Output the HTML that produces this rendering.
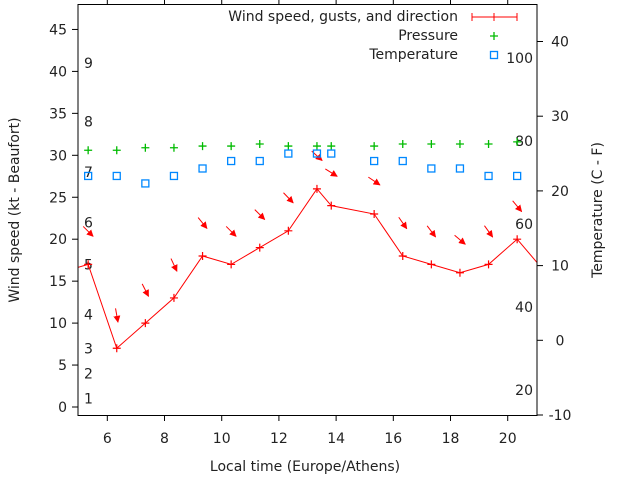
<!DOCTYPE html>
<html><head><meta charset="utf-8"><style>
body{margin:0;background:#fff}
svg text{font-family:"DejaVu Sans","Liberation Sans",sans-serif;font-size:14px;fill:#222}
</style></head><body>
<svg id="chart" width="640" height="480" viewBox="0 0 640 480" xmlns="http://www.w3.org/2000/svg">
<defs><clipPath id="clip"><rect x="78" y="4.5" width="459" height="411"/></clipPath>
<marker id="ah" viewBox="0 0 10 10" refX="9" refY="5" markerWidth="7" markerHeight="7" orient="auto"><path d="M0,0L10,5L0,10z" fill="#f00"/></marker></defs>
<g id="axes"></g>
<g id="marks" clip-path="url(#clip)"></g>
<rect x="78" y="4.5" width="459" height="411" fill="none" stroke="#000" stroke-width="1"/>
<text x="305" y="471" text-anchor="middle">Local time (Europe/Athens)</text>
<text transform="translate(19,210) rotate(-90)" text-anchor="middle">Wind speed (kt - Beaufort)</text>
<text transform="translate(602,210) rotate(-90)" text-anchor="middle">Temperature (C - F)</text>
<g>
<text x="458" y="21" text-anchor="end">Wind speed, gusts, and direction</text>
<line x1="472" y1="17" x2="517" y2="17" stroke="#f00"/><line x1="472" y1="13" x2="472" y2="21" stroke="#f00"/><line x1="517" y1="13" x2="517" y2="21" stroke="#f00"/><line x1="494" y1="13" x2="494" y2="21" stroke="#f00"/>
<text x="458" y="40" text-anchor="end">Pressure</text>
<path d="M490,36h8M494,32v8" stroke="#0b0" stroke-width="1.3"/>
<text x="458" y="59" text-anchor="end">Temperature</text>
<rect x="490.5" y="51.5" width="7" height="7" fill="none" stroke="#08f" stroke-width="1.3"/>
</g>
</svg>
<script>
const times=[4.33,5.33,6.33,7.33,8.33,9.33,10.33,11.33,12.33,13.33,13.83,15.33,16.33,17.33,18.33,19.33,20.33,21.33];
const speeds=[16,17,7,10,13,18,17,19,21,26,24,23,18,17,16,17,20,16];
const dirs=[315,315,350,333,335,321,315,315,316,312,302,304,325,323,310,324,320,320];
const pressure=[30.6,30.6,30.6,30.9,30.9,31.1,31.1,31.35,31.1,31.1,31.1,31.1,31.35,31.35,31.35,31.35,31.6,31.6];
const temps=[22,22,22,21,22,23,24,24,25,25,25,24,24,23,23,22,22,22];
const yTicks=[0,5,10,15,20,25,30,35,40,45];
const y2Ticks=[-10,0,10,20,30,40];
const xTicks=[6,8,10,12,14,16,18,20];
const beaufort=[1,4,7,11,17,22,28,34,41];
const fTicks=[20,40,60,80,100];
const X=t=>78+(t-4.975)*28.6;
const Y=v=>407-v*8.39;
const Y2=c=>415-(c+10)*7.47;
const NS='http://www.w3.org/2000/svg';
function mk(tag,attrs,parent,txt){const e=document.createElementNS(NS,tag);for(const k in attrs)e.setAttribute(k,attrs[k]);if(txt!==undefined)e.textContent=txt;parent.appendChild(e);return e;}
const ax=document.getElementById('axes'),mg=document.getElementById('marks');
yTicks.forEach(v=>{const y=Y(v);
 const l=mk('line',{x1:72,y1:y,x2:78,y2:y,stroke:'#000'},ax);
 
 
 const t=mk('text',{x:67,y:y+5,'text-anchor':'end'},ax,String(v));
 
 });
y2Ticks.forEach(v=>{const y=Y2(v);
 const l=mk('line',{x1:537,y1:y,x2:543,y2:y,stroke:'#000'},ax);
 
 
 const t=mk('text',{x:560,y:y+5,'text-anchor':'middle'},ax,String(v));
 
 });
xTicks.forEach(v=>{const x=X(v);
 const l=mk('line',{x1:x,y1:415.5,x2:x,y2:421,stroke:'#000'},ax);
 
 
 const l2=mk('line',{x1:x,y1:0,x2:x,y2:4.5,stroke:'#000'},ax);
 
 
 const t=mk('text',{x:x,y:443,'text-anchor':'middle'},ax,String(v));
 
 });
beaufort.forEach((k,i)=>{
 const t=mk('text',{x:84,y:Y(k)+5},ax,String(i+1));
 
 });
fTicks.forEach(f=>{
 const t=mk('text',{x:533,y:Y2((f-32)*5/9)+5,'text-anchor':'end'},ax,String(f));
 
 });
const pl=mk('polyline',{points:times.map((t,i)=>X(t)+','+Y(speeds[i])).join(' '),fill:'none',stroke:'#f00'},mg);


times.forEach((t,i)=>{const x=X(t),y=Y(speeds[i]);
 const p=mk('path',{d:`M${x-4},${y}h8M${x},${y-4}v8`,stroke:'#f00','stroke-width':1.2},mg);
 
 
 const a=dirs[i]*Math.PI/180,dx=-Math.sin(a)*7,dy=Math.cos(a)*7,cy=y-33;
 const ar=mk('line',{x1:x-dx,y1:cy-dy,x2:x+dx,y2:cy+dy,stroke:'#f00','marker-end':'url(#ah)'},mg);
 
 
 const py=Y(pressure[i]);
 const g=mk('path',{d:`M${x-4},${py}h8M${x},${py-4}v8`,stroke:'#0b0','stroke-width':1.3},mg);
 
 
 const ty=Y2(temps[i]);
 const s=mk('rect',{x:x-3.5,y:ty-3.5,width:7,height:7,fill:'none',stroke:'#08f','stroke-width':1.3},mg);
 
 
});
</script>
</body></html>
